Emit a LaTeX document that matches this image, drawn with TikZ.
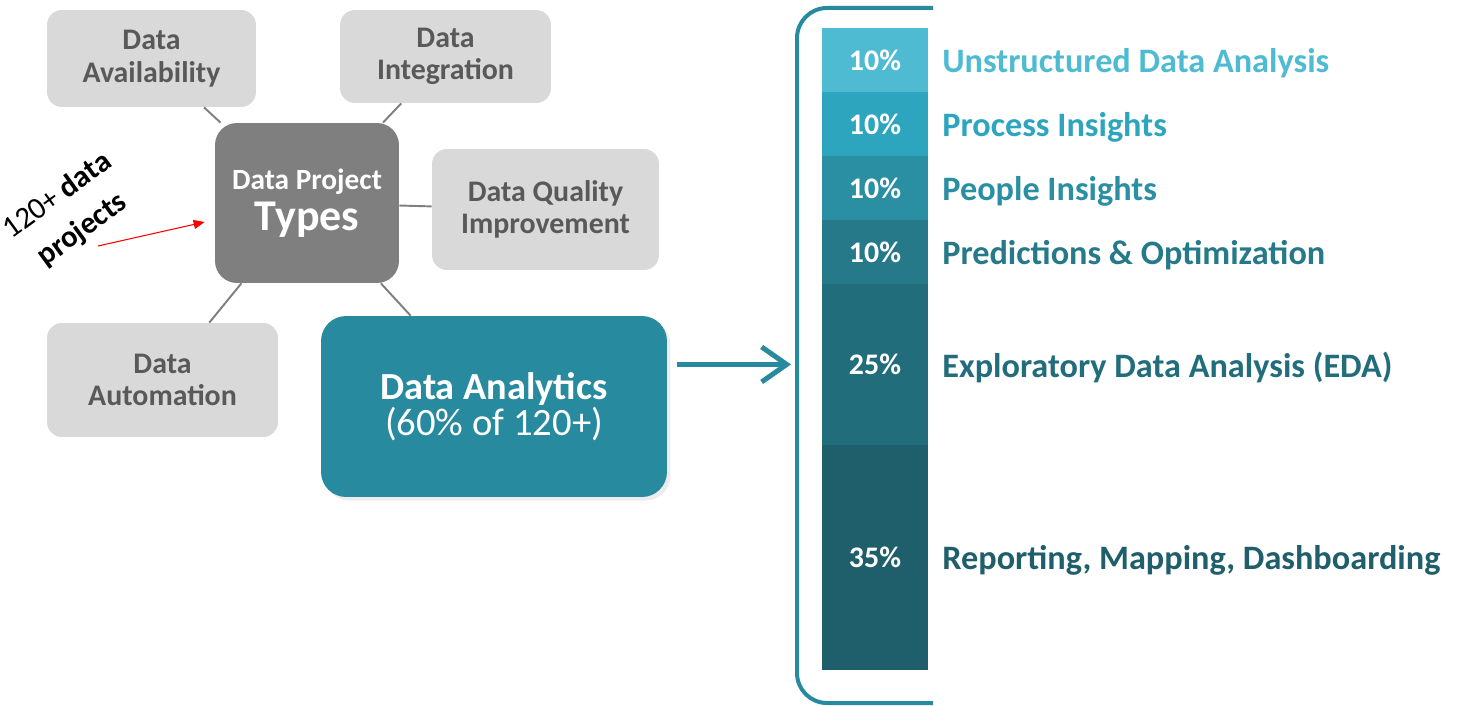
\documentclass[tikz,border=0pt]{standalone}
\usepackage{fontspec}
\setmainfont{Carlito}
\usetikzlibrary{positioning,calc,shadows,arrows.meta}

\definecolor{boxgray}{HTML}{D9D9D9}
\definecolor{textgray}{HTML}{595959}
\definecolor{hubgray}{HTML}{7F7F7F}
\definecolor{linegray}{HTML}{7F7F7F}
\definecolor{analyticsteal}{HTML}{288A9E}
\definecolor{segA}{HTML}{4EBBD3}
\definecolor{segB}{HTML}{2DA5BE}
\definecolor{segC}{HTML}{2A8FA2}
\definecolor{segD}{HTML}{267988}
\definecolor{segE}{HTML}{226D7B}
\definecolor{segF}{HTML}{1F5F6B}

\begin{document}
\begin{tikzpicture}[x=0.02cm,y=-0.02cm,
    graybox/.style={rectangle, rounded corners=0.3cm, fill=boxgray, text=textgray,
        align=center, font=\bfseries\fontsize{17}{18.5}\selectfont},
    spoke/.style={draw=linegray, line width=1.1pt},
    seg/.style={rectangle, minimum width=2.12cm, inner sep=0pt, outer sep=0pt,
        text=white, font=\bfseries\fontsize{17}{19}\selectfont},
    seglabel/.style={inner sep=0pt, yshift=-0.06cm, font=\bfseries\fontsize{19.5}{22}\selectfont}]
    \useasboundingbox (0,0) rectangle (1463,706);

    % project type boxes
    \node[rectangle, rounded corners=0.44cm, fill=hubgray, text=white, align=center,
        minimum width=3.68cm, minimum height=3.2cm] (types) at (307,203)
        {{\bfseries\fontsize{16.7}{19}\selectfont Data Project}\\[3pt]
         {\bfseries\fontsize{25}{28}\selectfont Types}};
    \node[graybox, minimum width=4.18cm, minimum height=1.94cm] (avail) at (151.5,58.5) {Data\\Availability};
    \node[graybox, minimum width=4.22cm, minimum height=1.86cm] (integ) at (445.5,56.5) {Data\\Integration};
    \node[graybox, minimum width=4.54cm, minimum height=2.42cm] (quality) at (545.5,209.5) {Data Quality\\Improvement};
    \node[graybox, minimum width=4.62cm, minimum height=2.28cm] (autom) at (162.5,380) {Data\\Automation};
    \node[rectangle, rounded corners=0.5cm, fill=analyticsteal, text=white, align=center,
        minimum width=6.92cm, minimum height=3.62cm,
        drop shadow={shadow xshift=2pt, shadow yshift=-2pt, opacity=0.15}] (analytics) at (494,406.5)
        {{\bfseries\fontsize{21.8}{26}\selectfont Data Analytics}\\
         {\fontsize{22}{26}\selectfont (60\% of 120+)}};

    \draw[spoke] (types) -- (avail);
    \draw[spoke] (types) -- (integ);
    \draw[spoke] (types) -- (quality);
    \draw[spoke] (types) -- (autom);
    \draw[spoke] (types) -- (analytics);

    % incoming projects
    \node[rotate=36, align=center, font=\fontsize{17.5}{24}\selectfont] (incoming) at (70,213)
        {120+ \textbf{data}\\\textbf{projects}};
    \coordinate (redtail) at (98,246);
    \draw[red, line width=0.6pt, -{Triangle[length=0.22cm,width=0.18cm]}]
        (redtail) -- ([shift={(-10,19)}]types.west);

    % analytics breakdown
    \node[seg, fill=segA, minimum height=1.28cm] (seg1) at (875,60) {10\%};
    \node[seg, fill=segB, minimum height=1.28cm, below=0cm of seg1] (seg2) {10\%};
    \node[seg, fill=segC, minimum height=1.28cm, below=0cm of seg2] (seg3) {10\%};
    \node[seg, fill=segD, minimum height=1.28cm, below=0cm of seg3] (seg4) {10\%};
    \node[seg, fill=segE, minimum height=3.22cm, below=0cm of seg4] (seg5) {25\%};
    \node[seg, fill=segF, minimum height=4.5cm, below=0cm of seg5] (seg6) {35\%};

    \node[seglabel, text=segA, right=0.28cm of seg1] (lab1) {Unstructured Data Analysis};
    \node[seglabel, text=segB, right=0.28cm of seg2] (lab2) {Process Insights};
    \node[seglabel, text=segC, right=0.28cm of seg3] (lab3) {People Insights};
    \node[seglabel, text=segD, right=0.28cm of seg4] (lab4) {Predictions \& Optimization};
    \node[seglabel, text=segE, right=0.28cm of seg5] (lab5) {Exploratory Data Analysis (EDA)};
    \node[seglabel, text=segF, right=0.28cm of seg6] (lab6) {Reporting, Mapping, Dashboarding};

    % bracket and arrow
    \draw[analyticsteal, line width=0.08cm, rounded corners=0.6cm]
        (933,8) -- (797,8) -- (797,703) -- (933,703);
    \draw[analyticsteal, line width=0.1cm, -{Straight Barb[length=0.5cm,width=0.7cm]}]
        ($(analytics.east |- seg5.west)+(10,0)$) -- ($(seg5.west)+(-31,0)$);
\end{tikzpicture}
\end{document}
